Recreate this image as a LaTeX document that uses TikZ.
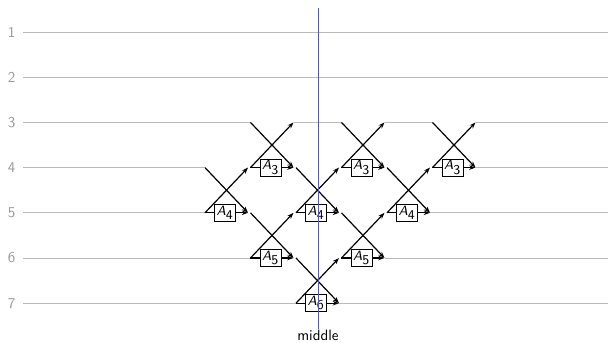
\documentclass[tikz,border=0pt]{standalone}
\usetikzlibrary{arrows.meta,positioning}

\definecolor{midblue}{RGB}{80,80,240}

\tikzset{
  wire/.style={gray!55, line width=0.6pt},
  rowlbl/.style={text=gray!80, font=\sffamily, inner sep=0pt},
  gateline/.style={thick, black},
  gatebox/.style={draw, semithick, font=\sffamily\small, inner sep=1pt, minimum width=14pt, minimum height=11.5pt},
  midline/.style={draw=midblue, line width=0.5pt},
  >={Stealth[length=4.2pt,width=3pt]}
}

% label inside a comparator box
\newcommand{\gatelbl}[1]{\textit{A}$_{\textsf{#1}}$}

% comparator: name, centre column, lower row, index
\newcommand{\comparator}[4]{%
  \coordinate (#1-ll) at ({#2-0.473},#3);
  \coordinate (#1-lr) at ({#2+0.473},#3);
  \coordinate (#1-ul) at ({#2-0.473},{#3-1});
  \coordinate (#1-ur) at ({#2+0.473},{#3-1});
  \node[gatebox] (#1) at ({#2-0.03},#3) {\gatelbl{#4}};
  \draw[gateline,->] (#1-ll) -- (#1-ur);
  \draw[gateline,->] (#1-ul) -- (#1-lr);
  \draw[gateline] (#1-ll) -- (#1.west);
  \draw[gateline,->] (#1.east) -- (#1-lr);
}

\begin{document}
\begin{tikzpicture}[x=30.35pt, y=-30.15pt]
	\useasboundingbox (-6.978,0.292) rectangle (6.385,7.88);

	% rows
	\foreach \r in {1,...,7} {
		\coordinate (s\r) at (-6.47,\r);
		\coordinate (e\r) at (6.385,\r);
		\node[rowlbl, left=5pt of s\r] (l\r) {\r};
	}

	% comparator positions
	\coordinate (A3a-ul) at (-1.473,3); \coordinate (A3a-ur) at (-0.527,3);
	\coordinate (A3b-ul) at (0.527,3);  \coordinate (A3b-ur) at (1.473,3);
	\coordinate (A3c-ul) at (2.527,3);  \coordinate (A3c-ur) at (3.473,3);

	% wires
	\draw[wire] (s1) -- (e1);
	\draw[wire] (s2) -- (e2);
	\draw[wire] (s3) -- (A3a-ul) (A3a-ur) -- (A3b-ul) (A3b-ur) -- (A3c-ul) (A3c-ur) -- (e3);
	\draw[wire] (s4) -- (-2.473,4) (3.473,4) -- (e4);
	\draw[wire] (s5) -- (-2.473,5) (2.473,5) -- (e5);
	\draw[wire] (s6) -- (-1.473,6) (1.473,6) -- (e6);
	\draw[wire] (s7) -- (-0.473,7) (0.473,7) -- (e7);

	% comparators
	\comparator{A3a}{-1}{4}{3}
	\comparator{A3b}{1}{4}{3}
	\comparator{A3c}{3}{4}{3}
	\comparator{A4a}{-2}{5}{4}
	\comparator{A4b}{0}{5}{4}
	\comparator{A4c}{2}{5}{4}
	\comparator{A5a}{-1}{6}{5}
	\comparator{A5b}{1}{6}{5}
	\comparator{A6}{0}{7}{6}

	% middle
	\coordinate (mtop) at (0.01,0.469);
	\node[anchor=north, font=\sffamily, inner sep=1pt] (mid) at (0.01,7.56) {middle};
	\draw[midline] (mtop) -- (mid.north);
\end{tikzpicture}
\end{document}
